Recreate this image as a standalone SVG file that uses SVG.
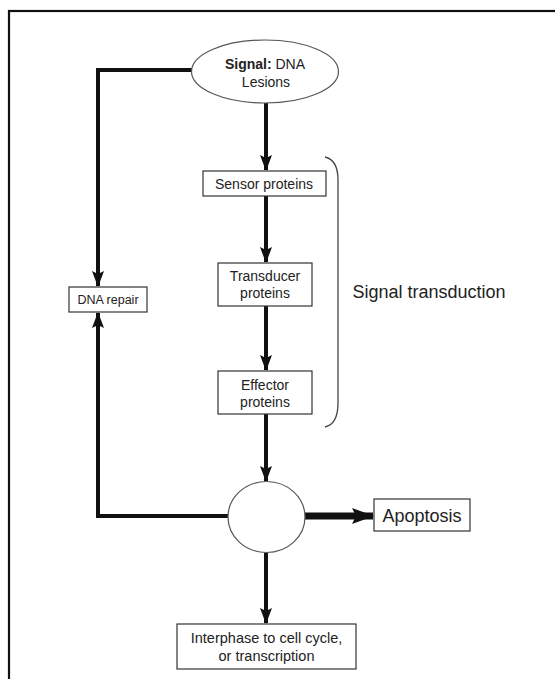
<svg xmlns="http://www.w3.org/2000/svg" width="555" height="679" viewBox="0 0 555 679">
<defs>
<style>
text{font-family:"Liberation Sans",Arial,sans-serif;fill:#222;text-anchor:middle}
.box{fill:#fff;stroke:#333;stroke-width:1.2}
.conn{fill:none;stroke:#111;stroke-width:4}
.thick{fill:none;stroke:#111;stroke-width:7}
</style>
<marker id="ah" markerUnits="userSpaceOnUse" markerWidth="16" markerHeight="12" refX="15" refY="6" orient="auto">
<path d="M0,0 L16,6 L0,12 L3,6 Z" fill="#111"/>
</marker>
<marker id="ahb" markerUnits="userSpaceOnUse" markerWidth="22" markerHeight="16" refX="21" refY="8" orient="auto">
<path d="M0,0 L22,8 L0,16 L4,8 Z" fill="#111"/>
</marker>
</defs>
<rect x="0" y="0" width="555" height="679" fill="#fff"/>
<rect x="9" y="11" width="570" height="700" fill="none" stroke="#111" stroke-width="2.2"/>
<g id="connectors">
<line class="conn" x1="266" y1="103" x2="266" y2="170" marker-end="url(#ah)"/>
<line class="conn" x1="266" y1="196" x2="266" y2="262" marker-end="url(#ah)"/>
<line class="conn" x1="266" y1="306" x2="266" y2="370" marker-end="url(#ah)"/>
<line class="conn" x1="266" y1="414" x2="266" y2="481" marker-end="url(#ah)"/>
<line class="conn" x1="266" y1="553" x2="266" y2="623" marker-end="url(#ah)"/>
<polyline class="conn" points="192,70 98,70 98,286" marker-end="url(#ah)"/>
<polyline class="conn" points="228,516 98,516 98,313" marker-end="url(#ah)"/>
<line class="thick" x1="305" y1="516" x2="373" y2="516" marker-end="url(#ahb)"/>
<path d="M325,157 Q338,160 338,180 L338,403 Q338,424 325,427" fill="none" stroke="#444" stroke-width="1.3"/>
</g>
<g id="signal">
<ellipse cx="265" cy="71.5" rx="73.5" ry="31.5" fill="#fff" stroke="#555" stroke-width="1.2"/>
<text x="265" y="69" font-size="14"><tspan font-weight="bold">Signal:</tspan> DNA</text>
<text x="266" y="87" font-size="14">Lesions</text>
</g>
<g id="sensor">
<rect class="box" x="203" y="171" width="123" height="25"/>
<text x="264" y="189" font-size="14">Sensor proteins</text>
</g>
<g id="transducer">
<rect class="box" x="218" y="263" width="94" height="43"/>
<text x="265" y="281" font-size="14">Transducer</text>
<text x="265" y="298" font-size="14">proteins</text>
</g>
<g id="effector">
<rect class="box" x="218" y="371" width="94" height="43"/>
<text x="265" y="390" font-size="14">Effector</text>
<text x="265" y="407" font-size="14">proteins</text>
</g>
<g id="decision">
<ellipse cx="266.5" cy="517" rx="38.5" ry="35.5" fill="#fff" stroke="#555" stroke-width="1.2"/>
</g>
<g id="dnarepair">
<rect class="box" x="69" y="287" width="78" height="25"/>
<text x="108" y="304" font-size="12.5">DNA repair</text>
</g>
<g id="apoptosis">
<rect class="box" x="374" y="499" width="96" height="32"/>
<text x="422" y="522" font-size="18">Apoptosis</text>
</g>
<g id="interphase">
<rect class="box" x="177" y="624" width="179" height="45"/>
<text x="266.5" y="643" font-size="14.5">Interphase to cell cycle,</text>
<text x="266.5" y="661" font-size="14.5">or transcription</text>
</g>
<g id="label">
<text x="429" y="298" font-size="18">Signal transduction</text>
</g>
</svg>
